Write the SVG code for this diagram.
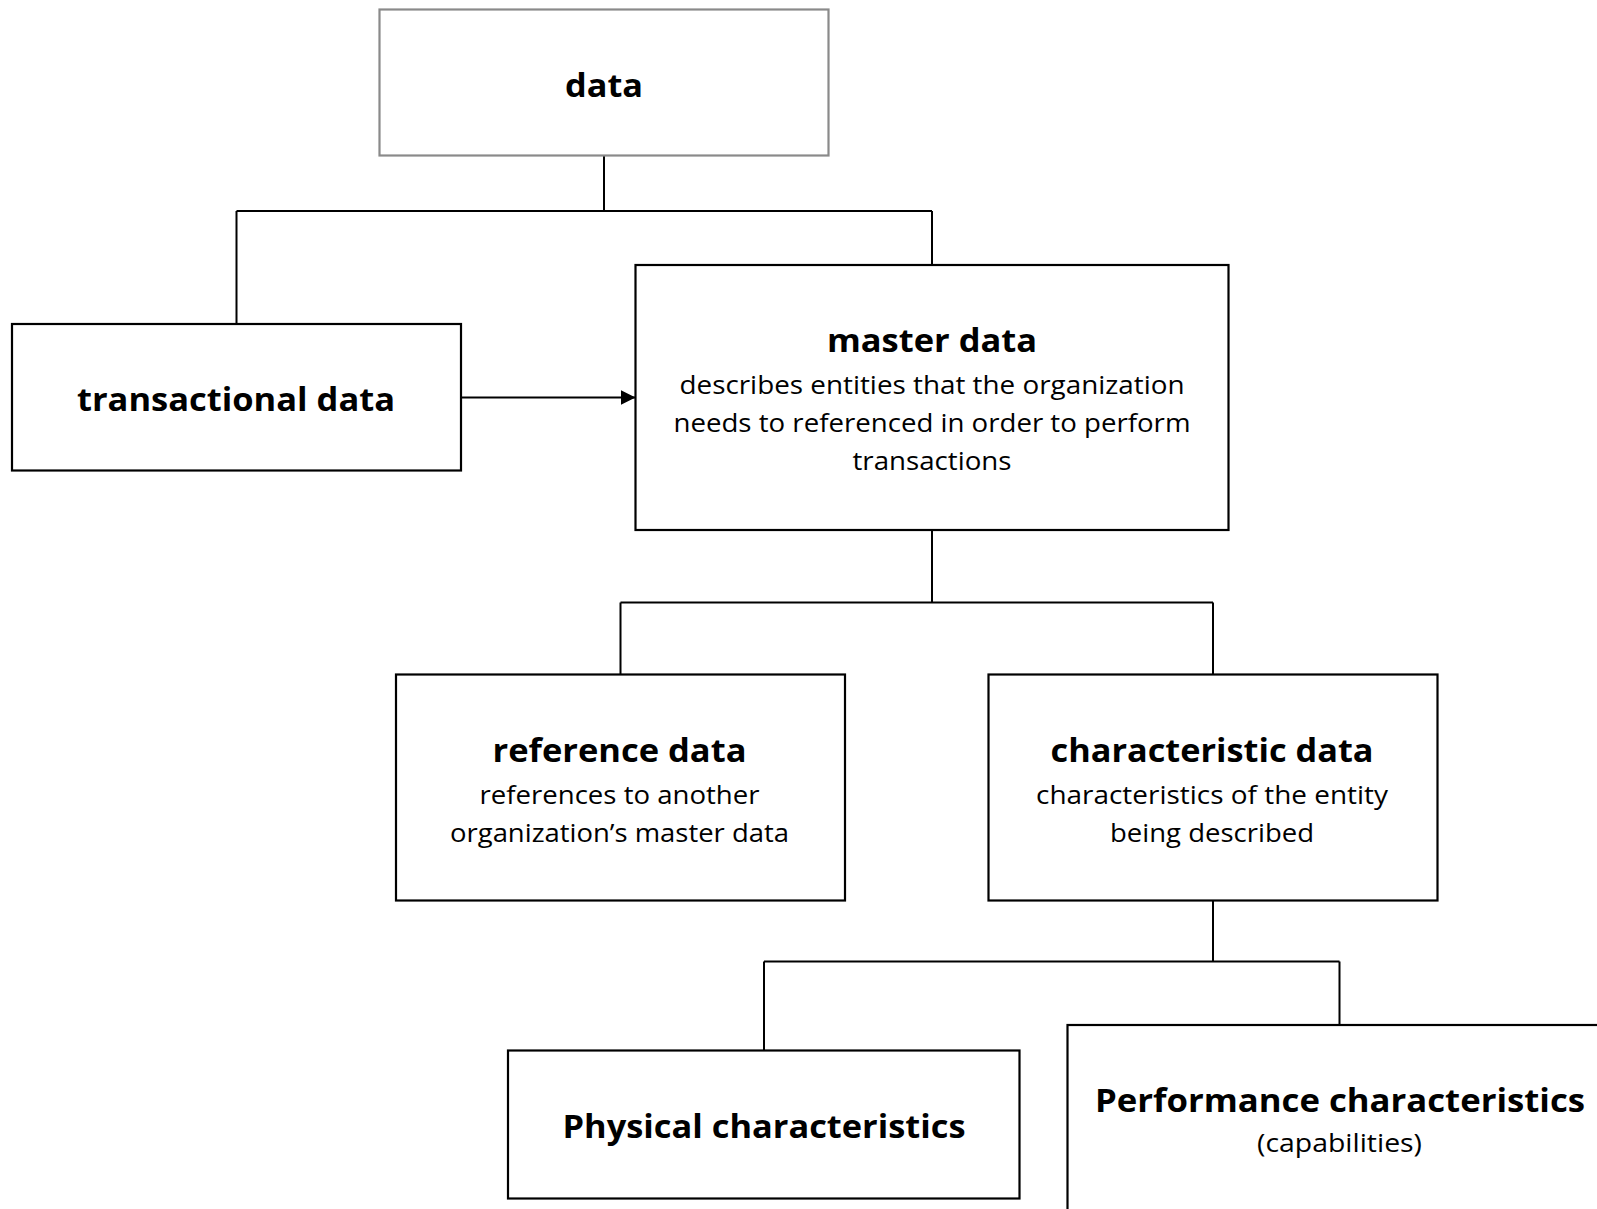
<svg xmlns="http://www.w3.org/2000/svg" width="1597" height="1209" viewBox="0 0 1597 1209">
<style>
.box{fill:#fff;stroke:#000;stroke-width:2.2}
.gray{stroke:#8a8a8a}
.t{font-family:"Open Sans","Liberation Sans",sans-serif;font-weight:bold;font-size:33px;text-anchor:middle;fill:#000}
.b{font-family:"Open Sans","Liberation Sans",sans-serif;font-size:26px;text-anchor:middle;fill:#000}
.c{fill:none;stroke:#000;stroke-width:2}
</style>
<defs>
<marker id="arr" markerUnits="userSpaceOnUse" markerWidth="15" markerHeight="15" refX="15" refY="7.5" orient="auto">
<path d="M0,0 L15,7.5 L0,15 z" fill="#000"/>
</marker>
</defs>
<rect width="1597" height="1209" fill="#fff"/>
<g id="connectors">
<path class="c" d="M604,155.5 V211 M236.5,211 H932 M236.5,211 V324 M932,211 V265"/>
<path class="c" d="M932,530 V602.5 M620.5,602.5 H1213 M620.5,602.5 V674.5 M1213,602.5 V674.5"/>
<path class="c" d="M1213,900.5 V961.5 M764,961.5 H1339.5 M764,961.5 V1050.5 M1339.5,961.5 V1025"/>
<line class="c" x1="461" y1="397.5" x2="635.5" y2="397.5" marker-end="url(#arr)"/>
</g>
<g id="data">
<rect class="box gray" x="379.5" y="9.5" width="449" height="146"/>
<text class="t" x="604" y="97" font-size="35" textLength="78" lengthAdjust="spacingAndGlyphs">data</text>
</g>
<g id="transactional">
<rect class="box" x="12" y="324" width="449" height="146.5"/>
<text class="t" x="236" y="411" textLength="318" lengthAdjust="spacingAndGlyphs">transactional data</text>
</g>
<g id="master">
<rect class="box" x="635.5" y="265" width="593" height="265"/>
<text class="t" x="932" y="352" textLength="210" lengthAdjust="spacingAndGlyphs">master data</text>
<text class="b" x="932" y="394" textLength="505" lengthAdjust="spacingAndGlyphs">describes entities that the organization</text>
<text class="b" x="932" y="432" textLength="517" lengthAdjust="spacingAndGlyphs">needs to referenced in order to perform</text>
<text class="b" x="932" y="470" textLength="159" lengthAdjust="spacingAndGlyphs">transactions</text>
</g>
<g id="reference">
<rect class="box" x="396" y="674.5" width="449" height="226"/>
<text class="t" x="619.5" y="762" textLength="254" lengthAdjust="spacingAndGlyphs">reference data</text>
<text class="b" x="619.5" y="804" textLength="280" lengthAdjust="spacingAndGlyphs">references to another</text>
<text class="b" x="619.5" y="842" textLength="339" lengthAdjust="spacingAndGlyphs">organization’s master data</text>
</g>
<g id="characteristic">
<rect class="box" x="988.5" y="674.5" width="449" height="226"/>
<text class="t" x="1212" y="762" textLength="323" lengthAdjust="spacingAndGlyphs">characteristic data</text>
<text class="b" x="1212" y="804" textLength="352" lengthAdjust="spacingAndGlyphs">characteristics of the entity</text>
<text class="b" x="1212" y="842" textLength="204" lengthAdjust="spacingAndGlyphs">being described</text>
</g>
<g id="physical">
<rect class="box" x="508" y="1050.5" width="511.5" height="148"/>
<text class="t" x="764" y="1138" textLength="403" lengthAdjust="spacingAndGlyphs">Physical characteristics</text>
</g>
<g id="performance">
<rect class="box" x="1067.5" y="1025" width="544" height="300"/>
<text class="t" x="1340" y="1112" textLength="490" lengthAdjust="spacingAndGlyphs">Performance characteristics</text>
<text class="b" x="1339.5" y="1152" font-size="24" textLength="165" lengthAdjust="spacingAndGlyphs">(capabilities)</text>
</g>
</svg>
